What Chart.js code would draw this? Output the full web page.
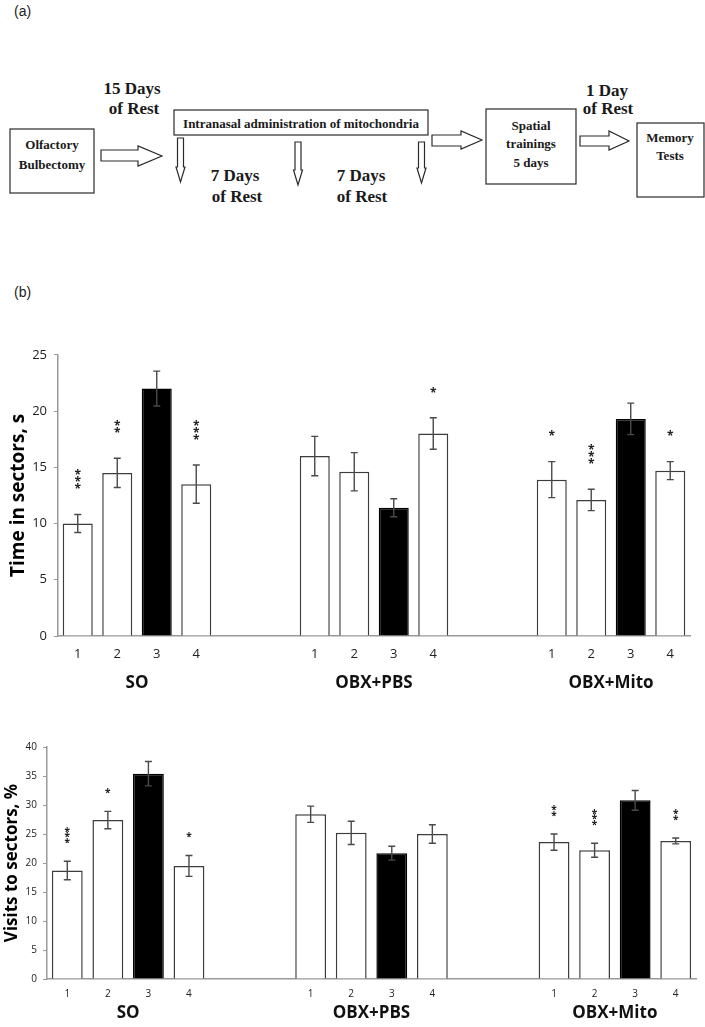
<!DOCTYPE html>
<html>
<head>
<meta charset="utf-8">
<script src="https://cdn.jsdelivr.net/npm/chart.js@4.4.1/dist/chart.umd.min.js"></script>
<style>
  body { margin: 0; background: #fff; }
  #page { position: relative; width: 705px; height: 1027px; overflow: hidden; background: #fff; }
  #scheme { position: absolute; left: 0; top: 0; }
  #scheme text { font-family: 'Liberation Serif', 'Times New Roman', serif; font-weight: bold; fill: #1a1a1a; }
  .panel { position: absolute; font-family: 'Liberation Sans', Arial, sans-serif; font-size: 14px; color: #222; }
  canvas { position: absolute; left: 0; }
</style>
</head>
<body>
<div id="page">
  <div class="panel" style="left:14px; top:3px;">(a)</div>

  <svg id="scheme" width="705" height="230">
    <g fill="#fff" stroke="#2a2a2a" stroke-width="1.2">
      <rect x="10" y="129" width="84" height="64"/>
      <rect x="174" y="110" width="254" height="25"/>
      <rect x="486" y="109" width="90" height="75"/>
      <rect x="637" y="123" width="67" height="74"/>
      <!-- right arrows -->
      <polygon points="101,150 138,150 138,146 162,156 138,166 138,161 101,161"/>
      <polygon points="432,135 461,135 461,131 482,140 461,149 461,146 432,146"/>
      <polygon points="580,136 609,136 609,131 629,141 609,150 609,146 580,146"/>
      <!-- down arrows -->
      <polygon points="177.5,138 183.5,138 183.5,167 185,167 180.5,182 176,167 177.5,167"/>
      <polygon points="295,142 301,142 301,170 302.5,170 298,185 293.5,170 295,170"/>
      <polygon points="418.5,142 424.5,142 424.5,168 426,168 421.5,183 417,168 418.5,168"/>
    </g>
    <g text-anchor="middle" dominant-baseline="central">
      <text x="52" y="144" font-size="13">Olfactory</text>
      <text x="52" y="164" font-size="13">Bulbectomy</text>
      <text x="132" y="88" font-size="17">15 Days</text>
      <text x="134" y="108" font-size="17">of Rest</text>
      <text x="301" y="123" font-size="13">Intranasal administration of mitochondria</text>
      <text x="235" y="175" font-size="17">7 Days</text>
      <text x="237" y="196" font-size="17">of Rest</text>
      <text x="361" y="175" font-size="17">7 Days</text>
      <text x="362" y="196" font-size="17">of Rest</text>
      <text x="531" y="125" font-size="13">Spatial</text>
      <text x="531" y="143" font-size="13">trainings</text>
      <text x="531" y="162" font-size="13">5 days</text>
      <text x="607" y="90" font-size="17">1 Day</text>
      <text x="608" y="108" font-size="17">of Rest</text>
      <text x="670" y="137" font-size="13">Memory</text>
      <text x="670" y="155" font-size="13">Tests</text>
    </g>
  </svg>

  <div class="panel" style="left:14px; top:284px;">(b)</div>
  <canvas id="timeChart" width="705" height="370" style="top:340px; width:705px; height:370px;"></canvas>
  <canvas id="visitChart" width="705" height="302" style="top:725px; width:705px; height:302px;"></canvas>
</div>

<script>
// groups and sectors on the x axis
const groupNames = ['SO', 'OBX+PBS', 'OBX+Mito'];
const sectors = ['1', '2', '3', '4'];
const gapSlots = 2;   // empty category slots between groups
const targetSector = '3';

// time in sectors, s
const timeSO = [10.0, 14.5, 22.0, 13.5];
const timePBS = [16.0, 14.6, 11.4, 18.0];
const timeMito = [13.9, 12.1, 19.3, 14.7];
const timeErrSO = [0.8, 1.3, 1.55, 1.7];
const timeErrPBS = [1.75, 1.7, 0.8, 1.4];
const timeErrMito = [1.6, 0.95, 1.4, 0.8];
const timeStarsSO = ['***', '**', '', '***'];
const timeStarsPBS = ['', '', '', '*'];
const timeStarsMito = ['*', '***', '', '*'];
const timeTicks = [0, 5, 10, 15, 20, 25];

// visits to sectors, %
const visitSO = [18.7, 27.4, 35.4, 19.5];
const visitPBS = [28.4, 25.2, 21.7, 25.0];
const visitMito = [23.6, 22.2, 30.8, 23.8];
const visitErrSO = [1.6, 1.5, 2.1, 1.8];
const visitErrPBS = [1.4, 2.0, 1.2, 1.6];
const visitErrMito = [1.4, 1.2, 1.7, 0.5];
const visitStarsSO = ['***', '*', '', '*'];
const visitStarsPBS = ['', '', '', ''];
const visitStarsMito = ['**', '***', '', '**'];
const visitTicks = [0, 5, 10, 15, 20, 25, 30, 35, 40];

// flatten the three groups with empty slots between them
function spread(groups, filler) {
    const out = [];
    groups.forEach((g, i) => {
        if (i > 0) for (let k = 0; k < gapSlots; k++) out.push(filler);
        out.push(...g);
    });
    return out;
}

const labels = spread([sectors, sectors, sectors], '');
const FONT = "'Open Sans', 'DejaVu Sans', sans-serif";

// error bars and significance stars
const errorBarsPlugin = {
    id: 'errorBars',
    afterDatasetsDraw(chart, args, opts) {
        const ctx = chart.ctx;
        const yScale = chart.scales.y;
        const values = chart.data.datasets[0].data;
        const bars = chart.getDatasetMeta(0).data;
        ctx.save();
        ctx.strokeStyle = '#4a4a4a';
        ctx.lineWidth = 1.4;
        bars.forEach((bar, i) => {
            const v = values[i];
            if (v === null || v === undefined) return;
            const e = opts.errors[i];
            const top = yScale.getPixelForValue(v + e);
            const bot = yScale.getPixelForValue(v - e);
            ctx.beginPath();
            ctx.moveTo(bar.x, top); ctx.lineTo(bar.x, bot);
            ctx.moveTo(bar.x - 3.5, top); ctx.lineTo(bar.x + 3.5, top);
            ctx.moveTo(bar.x - 3.5, bot); ctx.lineTo(bar.x + 3.5, bot);
            ctx.stroke();

            const s = opts.stars[i];
            if (s) {
                ctx.fillStyle = '#222';
                ctx.font = 'bold ' + opts.starSize + 'px ' + FONT;
                ctx.textAlign = 'center';
                ctx.textBaseline = 'alphabetic';
                for (let k = 0; k < s.length; k++) {
                    const cy = top - opts.starGap - k * opts.starStep;
                    ctx.fillText('*', bar.x, cy + opts.starSize * 0.56);
                }
            }
        });
        ctx.restore();
    }
};

// group names under the sector numbers
const groupLabelsPlugin = {
    id: 'groupLabels',
    afterDraw(chart, args, opts) {
        const ctx = chart.ctx;
        const xScale = chart.scales.x;
        ctx.save();
        ctx.font = 'bold ' + opts.size + 'px ' + FONT;
        ctx.fillStyle = '#111';
        ctx.textAlign = 'center';
        ctx.textBaseline = 'middle';
        groupNames.forEach((name, g) => {
            const first = g * (sectors.length + gapSlots);
            const last = first + sectors.length - 1;
            const cx = (xScale.getPixelForValue(first) + xScale.getPixelForValue(last)) / 2;
            ctx.fillText(name, cx, chart.chartArea.bottom + opts.offset);
        });
        ctx.restore();
    }
};

function buildChart(id, values, errors, stars, ticks, title, o) {
    const ctx = document.getElementById(id).getContext('2d');
    return new Chart(ctx, {
        type: 'bar',
        data: {
            labels: labels,
            datasets: [{
                data: values,
                backgroundColor: labels.map(l => l === targetSector ? '#000' : '#fff'),
                borderColor: labels.map(l => l === targetSector ? '#000' : '#3c3c3c'),
                borderWidth: 1.5,
                barPercentage: 0.76,
                categoryPercentage: 1.0
            }]
        },
        options: {
            responsive: false,
            animation: false,
            devicePixelRatio: 1,
            layout: { padding: { top: o.padTop, right: o.padRight, left: 0, bottom: 0 } },
            plugins: {
                legend: { display: false },
                tooltip: { enabled: false },
                errorBars: { errors: errors, stars: stars, starSize: o.starSize, starGap: o.starGap, starStep: o.starStep },
                groupLabels: { size: o.groupSize, offset: o.groupOffset }
            },
            scales: {
                x: {
                    grid: { display: false, drawTicks: false },
                    border: { display: true, color: '#999', width: 1.5 },
                    ticks: { color: '#222', padding: o.xTickPad, font: { family: FONT, size: o.xTickSize }, maxRotation: 0, autoSkip: false },
                    afterFit: s => { s.height = o.xHeight; }
                },
                y: {
                    min: ticks[0],
                    max: ticks[ticks.length - 1],
                    afterBuildTicks: s => { s.ticks = ticks.map(v => ({ value: v })); },
                    grid: { drawOnChartArea: false, drawTicks: true, tickLength: 4, color: '#999' },
                    border: { display: true, color: '#999', width: 1.5 },
                    ticks: { color: '#222', padding: o.yTickPad, font: { family: FONT, size: o.yTickSize } },
                    title: { display: true, text: title, color: '#000', padding: { top: o.titlePad, bottom: 0 }, font: { family: FONT, size: o.titleSize, weight: 'bold' } },
                    afterFit: s => { s.width = o.yWidth; }
                }
            }
        },
        plugins: [errorBarsPlugin, groupLabelsPlugin]
    });
}

buildChart('timeChart',
    spread([timeSO, timePBS, timeMito], null),
    spread([timeErrSO, timeErrPBS, timeErrMito], 0),
    spread([timeStarsSO, timeStarsPBS, timeStarsMito], ''),
    timeTicks, 'Time in sectors, s',
    { padTop: 13, padRight: 15, yWidth: 58, xHeight: 74, yTickSize: 13, yTickPad: 7,
      xTickSize: 13, xTickPad: 10, titleSize: 19, titlePad: 7.6,
      groupSize: 17, groupOffset: 47, starSize: 12, starGap: 28, starStep: 7 });

buildChart('visitChart',
    spread([visitSO, visitPBS, visitMito], null),
    spread([visitErrSO, visitErrPBS, visitErrMito], 0),
    spread([visitStarsSO, visitStarsPBS, visitStarsMito], ''),
    visitTicks, 'Visits to sectors, %',
    { padTop: 22, padRight: 9, yWidth: 47, xHeight: 48, yTickSize: 10, yTickPad: 6,
      xTickSize: 10, xTickPad: 9, titleSize: 17, titlePad: 2.3,
      groupSize: 17, groupOffset: 34, starSize: 10, starGap: 21, starStep: 5.5 });
</script>
</body>
</html>
